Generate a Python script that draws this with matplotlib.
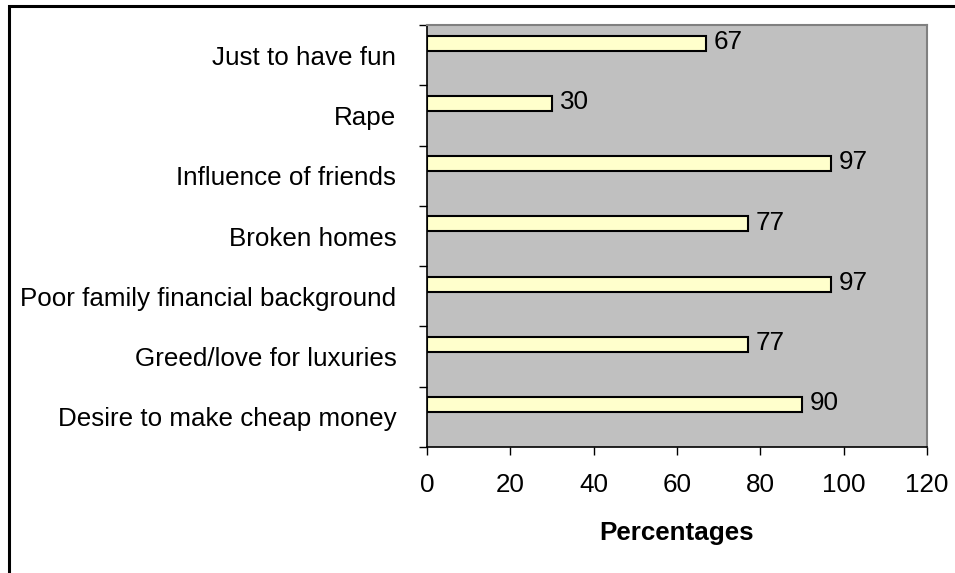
import numpy as np
import matplotlib
matplotlib.use('Agg')
import matplotlib.pyplot as plt
from matplotlib.patches import Rectangle

# Data (bottom to top)
reasons = ['Desire to make cheap money', 'Greed/love for luxuries',
           'Poor family financial background', 'Broken homes',
           'Influence of friends', 'Rape', 'Just to have fun']
percent = [90, 77, 97, 77, 97, 30, 67]
x_ticks = [0, 20, 40, 60, 80, 100, 120]

plt.rcParams['font.family'] = ['Liberation Sans', 'DejaVu Sans']
fs = 18.7

W, H = 955, 573
fig = plt.figure(figsize=(W / 100, H / 100), dpi=100)
ax = fig.add_axes([427 / W, 1 - 447 / H, 500 / W, 422 / H])
ax.set_facecolor('#C0C0C0')

y = np.arange(len(reasons))
bars = ax.barh(y + 0.2, percent, height=0.25, color='#FFFFCC',
               edgecolor='black', linewidth=1.5, zorder=3)
for b, v in zip(bars, percent):
    ax.annotate(f'{v}', (b.get_width(), b.get_y() + b.get_height() / 2),
                xytext=(5.5, 1), textcoords='offset points',
                va='center', ha='left', fontsize=fs)

ax.set_xlim(0, 120)
ax.set_ylim(-0.5, len(reasons) - 0.5)
ax.set_xticks(x_ticks)
ax.set_xticklabels([str(t) for t in x_ticks], fontsize=fs)
ax.tick_params(axis='x', length=6, width=1, pad=13)

ax.set_yticks(np.arange(-0.5, len(reasons)))
ax.set_yticklabels([])
ax.tick_params(axis='y', which='major', length=6, width=1)
ax.set_yticks(y, minor=True)
ax.set_yticklabels(reasons, minor=True, fontsize=fs)
ax.tick_params(axis='y', which='minor', length=0, pad=22)

ax.set_xlabel('Percentages', fontsize=fs, fontweight='bold', labelpad=17)

for s in ['left', 'bottom']:
    ax.spines[s].set_color('black')
    ax.spines[s].set_linewidth(1.2)
for s in ['top', 'right']:
    ax.spines[s].set_color('#808080')
    ax.spines[s].set_linewidth(1.5)

# outer chart frame (only left and top are in view)
fig.patches.append(Rectangle((8.5 / W, -0.1), 1.2, 1 - 6 / H + 0.1,
                             transform=fig.transFigure, fill=False,
                             edgecolor='black', linewidth=2.2,
                             clip_on=False))

plt.savefig('out.png', dpi=100)
